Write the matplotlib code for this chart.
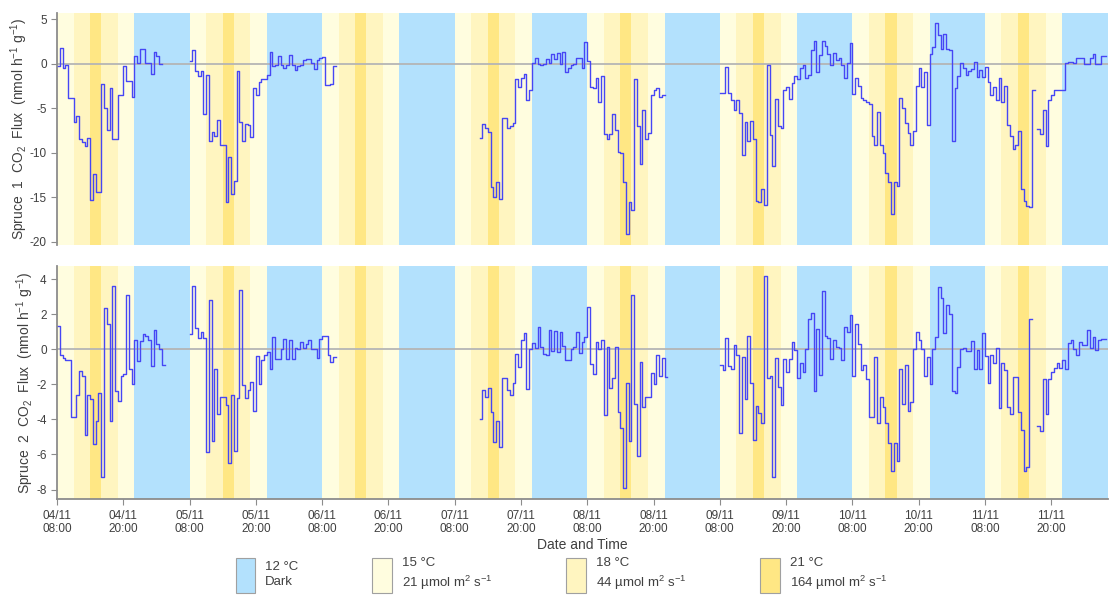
import numpy as np
import pandas as pd
import matplotlib
matplotlib.use('Agg')
import matplotlib.pyplot as plt
import matplotlib.dates as mdates
from matplotlib.patches import Patch

plt.rcParams['font.family'] = ['Liberation Sans', 'DejaVu Sans']
plt.rcParams['mathtext.fontset'] = 'custom'
plt.rcParams['mathtext.rm'] = 'Liberation Sans'
plt.rcParams['mathtext.it'] = 'Liberation Sans:italic'
plt.rcParams['mathtext.bf'] = 'Liberation Sans:bold'
plt.rcParams['axes.unicode_minus'] = False

# start of each measuring run, samples every 30 min
run_starts = ['2019-11-04 08:00', '2019-11-05 08:00', '2019-11-07 12:30',
              '2019-11-09 08:00', '2019-11-11 17:30']

# Spruce 1 CO2 flux (nmol h-1 g-1)
s1_run1 = [-0.25, 1.8, -0.5, -0.15, -3.9, -3.9, -6.6, -5.9, -8.5, -8.8, -9.3, -8.3,
           -15.3, -12.4, -14.4, -14.4, -2.3, -5.0, -7.5, -2.7, -8.5, -8.5, -3.5, -3.5,
           -0.3, -1.9, -1.9, -3.7, 0.85, 0.1, 1.7, 1.7, 0.1, 0.1, -1.1, 1.3, 0.85, 0.0]
s1_run2 = [0.3, 1.6, -0.8, -1.4, -0.8, -5.6, -1.3, -8.7, -7.7, -8.1, -6.3, -9.1, -9.1,
           -15.6, -10.5, -14.6, -13.2, -0.8, -6.6, -8.7, -6.8, -6.9, -8.2, -2.7, -3.5,
           -2.0, -1.7, -1.7, -1.3, 1.3, -0.3, -0.15, 0.9, -0.1, -0.5, -0.1, 1.0, -0.15,
           -0.7, -0.2, -0.15, 0.4, 0.5, 0.5, 0.05, -0.6, 0.4, 0.7, 0.8, -2.4, -2.4, -2.3,
           -0.25]
s1_run3 = [-8.3, -6.8, -7.2, -7.7, -13.9, -15.0, -13.3, -15.2, -6.1, -6.1, -7.2, -7.0,
           -6.7, -1.75, -2.6, -1.6, -1.15, -4.1, -2.9, 0.1, 0.7, 0.0, -0.15, 0.0, 0.5,
           0.1, 1.15, 0.5, 1.2, 0.0, 1.35, -0.9, -0.5, -0.1, 0.0, 0.6, 0.6, -0.5, 2.45,
           0.3, -2.6, -2.75, -1.65, -4.25, -1.4, -7.9, -8.5, -7.9, -5.7, -7.4, -9.9,
           -10.0, -13.3, -19.2, -15.6, -16.5, -1.7, -7.0, -11.3, -5.2, -8.5, -7.8, -3.5,
           -2.95, -2.75, -3.7, -3.5]
s1_run4 = [-3.3, -3.3, -0.35, -3.25, -4.05, -5.2, -4.05, -5.5, -10.3, -6.5, -8.7, -6.4,
           -8.5, -15.4, -15.6, -14.1, -15.9,
           -0.15, -8.0, -11.5, -4.0, -7.0, -7.2, -3.0, -2.65, -4.0, -2.2, -1.4, -1.75,
           -0.5, -0.15, -1.65, -1.25,
           1.6, 2.55, -0.9, 1.0, 2.55, 2.0, 1.15, -0.15, 1.2, 0.4, 0.6, -0.15, -1.65,
           0.05, 2.35,
           -3.4, -1.65, -2.5, -3.9, -4.05, -4.35, -4.5, -8.1, -9.1, -5.4, -9.1, -10.0,
           -12.3, -13.3, -16.9, -13.3, -13.8,
           -3.9, -5.0, -6.7, -7.8, -9.1, -7.6, -2.5, -0.5, -2.65, -0.9, -6.9,
           1.15, 1.9, 4.6, 3.2, 1.7, 3.4, 1.7, 1.6,
           -8.7, -2.75, -1.4, 0.05, -0.5, -1.25, -0.8, -0.6, 0.2, -1.5, -0.7, -1.5,
           -0.35, -2.0, -3.5, -2.6, -4.05, -1.65, -4.25, -2.5, -6.9, -8.1, -9.6, -9.1,
           -7.6, -14.1, -15.4, -16.0, -16.1, -2.95]
s1_run5 = [-7.3, -7.9, -5.2, -9.2, -4.05, -3.5, -3.0, -3.0, -3.0, -3.0, 0.05, 0.2, 0.2,
           0.1, 0.6, 0.6, 0.6, 0.0, 0.0, 0.6, 1.1, 0.0, 0.0, 0.85, 0.85]

# Spruce 2 CO2 flux (nmol h-1 g-1)
s2_run1 = [1.3, -0.3, -0.5, -0.6, -0.6, -3.85, -3.85, -2.6, -1.25, -1.5, -4.9, -2.6,
           -2.85, -5.4, -4.1, -2.5, -7.3, 2.35, 1.45, -4.1, 3.6, -2.4, -2.95, -1.5,
           -1.4, 3.1, -1.1, -2.0, 0.55, -0.65, 0.45, 0.85, 0.75, 0.5, -0.95, 1.1, 0.3,
           0.0, -0.9]
s2_run2 = [0.85, 3.6, 1.2, 0.65, 1.0, 0.65, -5.85, 2.8, -5.25, -1.1, -3.7, -2.75,
           -2.75, -3.2, -6.5, -2.6, -5.8, -2.8, 3.4, -2.05, -2.8, -2.3, -1.85, -3.5,
           -0.4, -2.0, -0.6, -0.35, -0.15, -1.1, 0.7, -0.55, -0.55,
           0.0, 0.6, -0.55, 0.55, -0.55, 0.1, 0.0, 0.4, 0.1, 0.3, 0.55, 0.0, 0.0, -0.5,
           0.6, 0.75, 0.75, -0.3, -0.7, -0.45]
s2_run3 = [-4.0, -2.35, -2.7, -2.2, -3.6, -5.3, -4.1, -5.55, -1.65, -1.65, -2.3, -2.6,
           -1.9,
           -0.25, -1.0, 0.5, 0.95, -2.25, 0.0, 0.35, 0.1, 1.25, 0.15, -0.25, -0.3, 1.1,
           -0.1, 1.05, -0.15, 1.0, 0.2, -0.6, -0.6, 0.0, 0.15, 1.0, -0.2, 0.4, 0.7,
           2.4, -0.85, -1.4, 0.4, 0.0, 0.55, -3.75, 0.15, -2.2, -1.65, 0.15, -3.55, -4.5,
           -7.9, -1.9, -5.25,
           3.1, -3.1, -6.1, -0.7, -3.3, -2.75, -2.75, -1.35, -2.0, -0.3, -1.5, -0.5, -1.6]
s2_run4 = [-0.9, -1.2, 0.65, -0.95, -1.1, 0.25, -0.35, -4.75, -0.45, -2.85, 0.75, -1.9,
           -5.15, -3.25, -3.65, -4.2,
           4.15, -1.65, -1.5, -7.3,
           -0.5, -2.15, -3.2, -0.55, -1.3, -0.55, 0.4, -0.05, -1.65, -0.8, -1.3, 0.0,
           1.7, 2.05, -2.4, 1.15, -1.45, 3.35,
           0.75, 0.65, -0.55, 0.5, 0.15, 0.1, -0.6, 1.25, 1.0, 1.95, -1.5, 1.45, 0.3,
           -1.2, -0.9, -1.7, -3.85, -3.85, -0.45, -4.2, -2.75, -3.3, -4.2, -5.35,
           -6.95, -5.35, -6.35, -1.1, -3.1, -0.9, -3.5, -3.0, 0.0, 1.0, 0.5, 0.0, -1.55,
           -0.45, -2.0, 0.0, 0.7,
           3.55, 2.9, 0.9, 2.55, 2.0,
           -2.4, -2.5, -1.0, 0.0, 0.1, -0.1, -0.1, 0.45, -1.1, -0.05, -1.1, 0.95, -0.4,
           -1.9, -0.3, -0.8, 0.1, -3.35, -0.8, -1.2, -3.3, -3.7, -1.6, -1.6, -3.55,
           -4.6, -6.95, -6.7, 1.75]
s2_run5 = [-4.35, -4.65, -1.7, -3.7, -1.7, -1.3, -1.05, -0.8, -1.05, -0.6, -1.1, 0.35,
           0.55, 0.0, -0.3, 0.4, 0.25, 0.25, 1.1, 0.1, 0.7, -0.05, 0.5, 0.6, 0.6]

# daily light/temperature programme (hours of the day)
phase_start = [8, 11, 14, 16, 19, 22]
phase_end = [11, 14, 16, 19, 22, 32]
phase_name = ['15', '18', '21', '18', '15', 'dark']
days = pd.date_range('2019-11-03', '2019-11-11', freq='D')

phase_color = {'dark': '#b3e1fd', '15': '#fffddf', '18': '#fff5c0', '21': '#ffe784'}
legend_keys = ['dark', '15', '18', '21']
legend_labels = ['12 °C\nDark',
                 '15 °C\n21 µmol m$^2$ s$^{-1}$',
                 '18 °C\n44 µmol m$^2$ s$^{-1}$',
                 '21 °C\n164 µmol m$^2$ s$^{-1}$']

t_start = pd.Timestamp('2019-11-04 08:00')
t_stop = pd.Timestamp('2019-11-12 06:15')


def build_series(runs):
    idx = pd.date_range(t_start, '2019-11-12 06:00', freq='30min')
    s = pd.Series(np.nan, index=idx)
    for start, vals in zip(run_starts, runs):
        r = pd.date_range(start, periods=len(vals), freq='30min')
        s.loc[r] = vals
    return s


spruce1 = build_series([s1_run1, s1_run2, s1_run3, s1_run4, s1_run5])
spruce2 = build_series([s2_run1, s2_run2, s2_run3, s2_run4, s2_run5])

fig = plt.figure(figsize=(11.1, 5.95), dpi=100)
ax1 = fig.add_axes([0.0514, 0.588, 0.9466, 0.39])
ax2 = fig.add_axes([0.0514, 0.161, 0.9466, 0.392])

axis_grey = '#8c8c8c'
text_grey = '#404040'

for ax, s, ylim, yt, num in [(ax1, spruce1, (-20.4, 5.7), [5, 0, -5, -10, -15, -20], 1),
                             (ax2, spruce2, (-8.55, 4.75), [4, 2, 0, -2, -4, -6, -8], 2)]:
    for d in days:
        for a, b, n in zip(phase_start, phase_end, phase_name):
            ax.axvspan(d + pd.Timedelta(hours=a), d + pd.Timedelta(hours=b),
                       color=phase_color[n], lw=0, zorder=0)
    ax.axhline(0, color='#b5b5b5', lw=1.3, zorder=1)
    ax.plot(s.index, s.values, drawstyle='steps-post', color='#4646f5', lw=1.0, zorder=2)
    ax.set_xlim(t_start, t_stop)
    ax.set_ylim(*ylim)
    ax.set_yticks(yt)
    ax.set_ylabel('Spruce  %d  CO$_2$  Flux  (nmol h$^{-1}$ g$^{-1}$)' % num,
                  fontsize=10, color=text_grey, labelpad=0)
    for side in ['top', 'right']:
        ax.spines[side].set_visible(False)
    for side in ['left', 'bottom']:
        ax.spines[side].set_color(axis_grey)
        ax.spines[side].set_linewidth(1.3)
    ax.tick_params(colors=axis_grey, labelcolor=text_grey, labelsize=8.5, length=4)
    ax.xaxis.set_major_locator(mdates.HourLocator(byhour=[8, 20]))
    ax.xaxis.set_major_formatter(mdates.DateFormatter('%d/%m\n%H:%M'))

ax1.spines['bottom'].set_visible(False)
ax1.tick_params(axis='x', bottom=False, labelbottom=False)
ax2.set_xlabel('Date and Time', fontsize=10, color=text_grey, labelpad=2)

handles = [Patch(facecolor=phase_color[k], edgecolor='#a0a0a0', lw=0.8) for k in legend_keys]
leg = fig.legend(handles, legend_labels, loc='center', bbox_to_anchor=(0.506, 0.034),
                 ncol=4, frameon=False, fontsize=9.5, handlelength=1.5, handleheight=3.7,
                 handletextpad=0.75, columnspacing=5.6, borderaxespad=0)
for t in leg.get_texts():
    t.set_color(text_grey)
    t.set_linespacing(1.4)

plt.savefig('out.png', dpi=100)
